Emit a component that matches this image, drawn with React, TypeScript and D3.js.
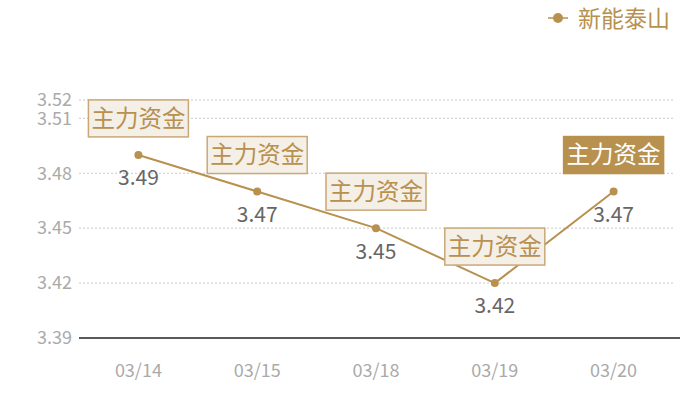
import React from "react";
import * as d3 from "d3";

const categories = ["03/14", "03/15", "03/18", "03/19", "03/20"];
const values = [3.49, 3.47, 3.45, 3.42, 3.47];
const yTicks = [3.39, 3.42, 3.45, 3.48, 3.51, 3.52];
const seriesName = "新能泰山";
const markLabel = "主力资金";

const W = 700, H = 400;
const left = 79, right = 673, top = 100, bottom = 338;
const gold = "#b8914f";
const font = "'Noto Sans CJK SC', 'Noto Sans', sans-serif";

export default function App() {
  const x = d3.scaleBand<string>().domain(categories).range([left, right]);
  const y = d3.scaleLinear().domain([3.39, 3.52]).range([bottom, top]);
  const cx = (c: string) => (x(c) ?? 0) + x.bandwidth() / 2;
  const line = d3.line<number>().x((_, i) => cx(categories[i])).y((v) => y(v));
  return (
    <svg width={W} height={H} style={{ position: "absolute", left: 0, top: 0, fontFamily: font }}>
      {yTicks.map((t) => (
        <g key={t}>
          {t !== 3.39 && (
            <line x1={left} x2={right} y1={y(t)} y2={y(t)} stroke="#c8c8c8" strokeDasharray="2,2" />
          )}
          <text x={72} y={y(t)} dy="0.35em" textAnchor="end" fontSize={18} fill="#aaa">
            {t.toFixed(2)}
          </text>
        </g>
      ))}
      <line x1={left} x2={680} y1={bottom} y2={bottom} stroke="#222" strokeWidth={1.3} />
      {categories.map((c) => (
        <text key={c} x={cx(c)} y={371} dy="0.35em" textAnchor="middle" fontSize={18} fill="#aaa">
          {c}
        </text>
      ))}
      <path d={line(values) ?? ""} fill="none" stroke={gold} strokeWidth={2} />
      {values.map((v, i) => {
        const px = cx(categories[i]);
        const py = y(v);
        const last = i === values.length - 1;
        return (
          <g key={i}>
            <circle cx={px} cy={py} r={4} fill={gold} />
            <text x={px} y={py + 23} dy="0.35em" textAnchor="middle" fontSize={21} fill="#666">
              {v.toFixed(2)}
            </text>
            <rect
              x={px - 50}
              y={py - 55}
              width={100}
              height={37}
              fill={last ? gold : "#f4efe7"}
              stroke={last ? gold : "#c9a878"}
              strokeWidth={1.5}
            />
            <text x={px} y={py - 36.5} dy="0.36em" textAnchor="middle" fontSize={23.5} fill={last ? "#fff" : gold}>
              {markLabel}
            </text>
          </g>
        );
      })}
      <g>
        <line x1={548} x2={568} y1={18} y2={18} stroke={gold} strokeWidth={1.5} />
        <circle cx={558} cy={18} r={5} fill={gold} />
        <text x={578} y={19} dy="0.36em" fontSize={23} fill={gold}>
          {seriesName}
        </text>
      </g>
    </svg>
  );
}
